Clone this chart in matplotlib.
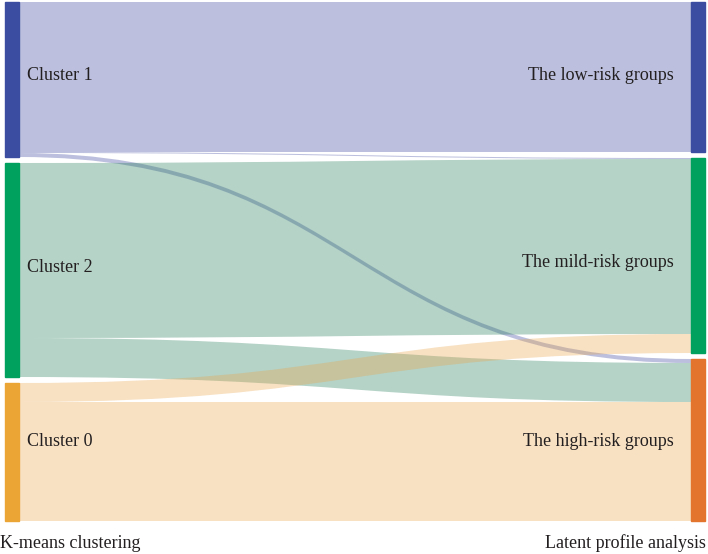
import matplotlib.pyplot as plt
from matplotlib.path import Path
from matplotlib.patches import PathPatch, Rectangle

# nodes (top to bottom)
sources = ["Cluster 1", "Cluster 2", "Cluster 0"]
targets = ["The low-risk groups", "The mild-risk groups", "The high-risk groups"]

# flow sizes: rows = sources, cols = targets (low, mild, high)
flow_c1 = [150, 1, 4]
flow_c2 = [0, 175, 39]
flow_c0 = [0, 19, 119]
flows = [flow_c1, flow_c2, flow_c0]

source_colors = ["#3B4DA0", "#00A15F", "#EBA535"]
target_colors = ["#3B4DA0", "#00A15F", "#E2742E"]
link_colors = ["#34409B", "#1F7A55", "#EAA449"]

axis_left = "K-means clustering"
axis_right = "Latent profile analysis"

plt.rcParams['font.family'] = ['Liberation Serif', 'DejaVu Serif']

fig = plt.figure(figsize=(7.08, 5.54), dpi=100)
ax = fig.add_axes([0, 0, 1, 1])
ax.set_xlim(0, 708)
ax.set_ylim(554, 0)
ax.axis('off')

top = 2
gap = 6
node_w = 14
x_left = 5
x_right = 691
text_color = "#231F20"
fs = 13
# small nudges of the labels relative to node centres
src_label_dy = [-4, -3, -10]
tgt_label_dy = [-2, 7, 1]

src_tot = [sum(r) for r in flows]
tgt_tot = [sum(flows[i][j] for i in range(3)) for j in range(3)]

# node start positions
src_y, y = [], top
for t in src_tot:
    src_y.append(y)
    y += t + gap
tgt_y, y = [], top
for t in tgt_tot:
    tgt_y.append(y)
    y += t + gap

# links
src_off = list(src_y)
tgt_off = list(tgt_y)
x0 = x_left + node_w
x1 = x_right
xm = (x0 + x1) / 2
for i in range(3):
    for j in range(3):
        v = flows[i][j]
        if v <= 0:
            continue
        ya0, ya1 = src_off[i], src_off[i] + v
        yb0, yb1 = tgt_off[j], tgt_off[j] + v
        src_off[i] += v
        tgt_off[j] += v
        verts = [(x0, ya0), (xm, ya0), (xm, yb0), (x1, yb0),
                 (x1, yb1), (xm, yb1), (xm, ya1), (x0, ya1), (x0, ya0)]
        codes = [Path.MOVETO, Path.CURVE4, Path.CURVE4, Path.CURVE4,
                 Path.LINETO, Path.CURVE4, Path.CURVE4, Path.CURVE4, Path.CLOSEPOLY]
        ax.add_patch(PathPatch(Path(verts, codes), facecolor=link_colors[i],
                               edgecolor='none', alpha=0.33, zorder=2))

# nodes and labels
for i, name in enumerate(sources):
    ax.add_patch(Rectangle((x_left, src_y[i]), node_w, src_tot[i],
                           color=source_colors[i], zorder=3))
    ax.text(x_left + node_w + 8, src_y[i] + src_tot[i] / 2 + src_label_dy[i], name,
            ha='left', va='center', fontsize=fs, color=text_color, zorder=4)
for j, name in enumerate(targets):
    ax.add_patch(Rectangle((x_right, tgt_y[j]), node_w, tgt_tot[j],
                           color=target_colors[j], zorder=3))
    ax.text(x_right - 17, tgt_y[j] + tgt_tot[j] / 2 + tgt_label_dy[j], name,
            ha='right', va='center', fontsize=fs, color=text_color, zorder=4)

ax.text(0, 543, axis_left, ha='left', va='center', fontsize=fs, color=text_color)
ax.text(706, 543, axis_right, ha='right', va='center', fontsize=fs, color=text_color)

fig.savefig("out.png", dpi=100)
